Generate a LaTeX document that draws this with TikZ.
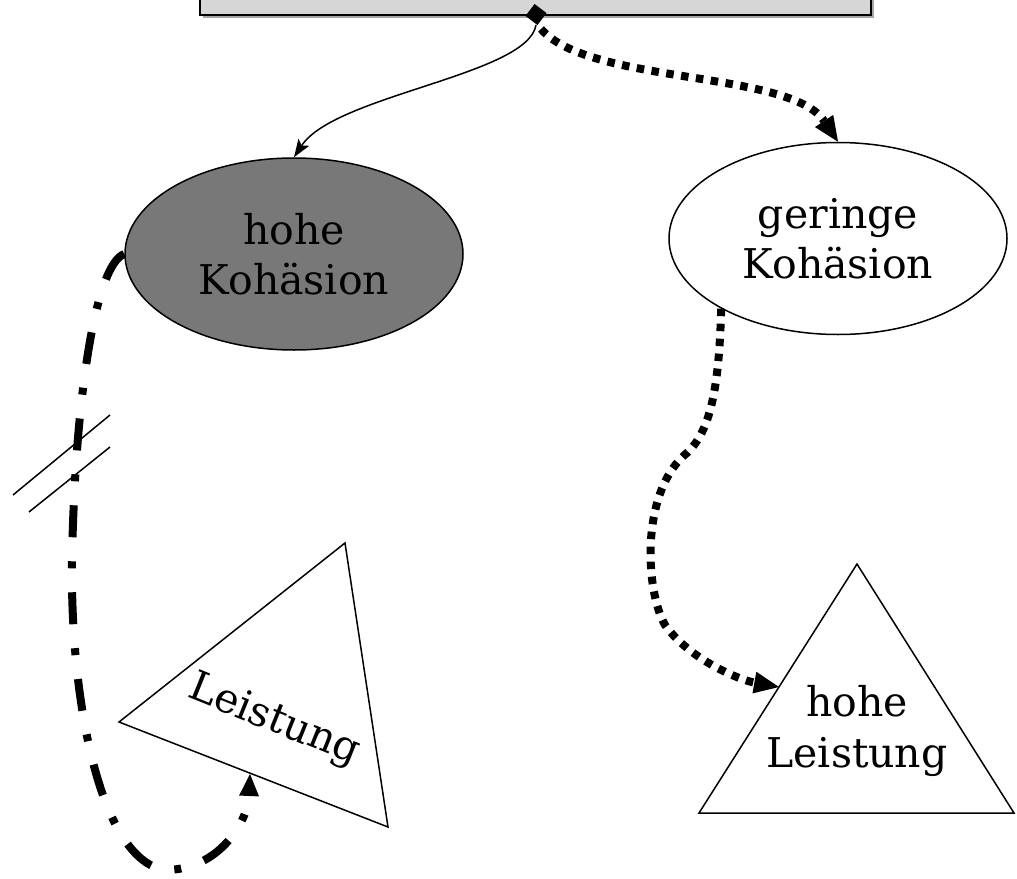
\documentclass[tikz,border=0pt]{standalone}
\usepackage{fontspec}
\setmainfont{DejaVu Serif}
\usetikzlibrary{arrows.meta,shapes.geometric}
\definecolor{ellgray}{HTML}{787878}
\definecolor{boxgray}{HTML}{D6D6D6}
\begin{document}
\begin{tikzpicture}[x=1pt,y=-1pt,
  ell/.style={ellipse, draw, line width=1.5pt, minimum width=338pt, minimum height=192pt, inner sep=0pt, align=center, font=\fontsize{41}{50}\selectfont},
  lbl/.style={align=center, inner sep=0pt, font=\fontsize{41}{51}\selectfont},
  thinline/.style={line width=1.5pt, line join=miter},
  fatdot/.style={line width=8pt, dash pattern=on 7.5pt off 7.5pt, -{Triangle[length=25pt,width=22pt,line width=0pt]}},
  dashdotarrow/.style={line width=8pt, dash pattern=on 32pt off 24pt on 7pt off 24pt, -{Triangle[length=22pt,width=20pt,line width=0pt]}},
  solidarrow/.style={line width=1.5pt, -{Stealth[length=18pt,width=13pt,inset=4pt,line width=0pt]}}
]
\clip (0,0) rectangle (1017,878);
% top box
\fill[gray!70] (203,-20) rectangle (874,18);
\draw[line width=2pt, fill=boxgray] (200,-20) rectangle (871,15);
\node[rectangle, fill=black, minimum size=15pt, inner sep=0pt, rotate=-37] (src) at (536,14.5) {};
\coordinate (s1) at (536,25);
\coordinate (s2) at (541,29);
% ellipses
\node[ell, fill=ellgray] (hk) at (294,254) {hohe\\Kohäsion};
\node[ell] (gk) at (838,238.5) {geringe\\Kohäsion};
% left triangle
\coordinate (la) at (345,543);
\coordinate (lb) at (119,722);
\coordinate (lc) at (388,827);
\draw[thinline] (la) -- (lb) -- (lc) -- cycle;
\node[lbl, rotate=-22] (lt) at (274,721) {Leistung};
\coordinate (ltip) at (250,774);
% right triangle
\coordinate (ra) at (857,564);
\coordinate (rb) at (699,813);
\coordinate (rc) at (1014,813);
\draw[thinline] (ra) -- (rb) -- (rc) -- cycle;
\node[lbl] (rt) at (857,731) {hohe\\Leistung};
\coordinate (rtip) at (779,687);
% connectors
\draw[solidarrow] (s1) .. controls (528,75) and (335,95) .. (hk.north);
\draw[fatdot] (s2) .. controls (590,85) and (790,70) .. (gk.north);
\draw[fatdot] (gk.211) .. controls (719,390) and (710,430) .. (688,452)
  .. controls (640,490) and (645,590) .. (665,625)
  .. controls (690,660) and (740,680) .. (rtip);
\draw[dashdotarrow] (hk.west) .. controls (95,265) and (75,400) .. (72,560)
  .. controls (70,700) and (100,860) .. (165,870)
  .. controls (220,870) and (248,820) .. (ltip);
% break marks
\draw[thinline] (13,495) -- (110,415);
\draw[thinline] (29,512) -- (110,447);
\end{tikzpicture}
\end{document}
